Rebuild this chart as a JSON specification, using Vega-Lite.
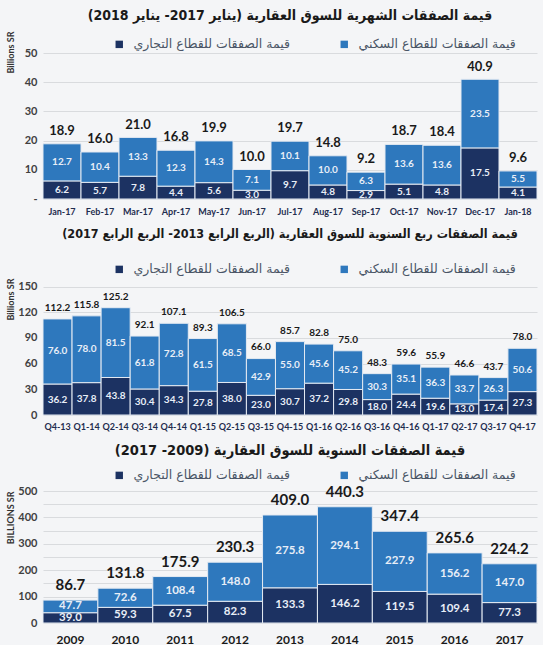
{
  "$schema": "https://vega.github.io/schema/vega-lite/v6.json",
  "background": "#f4f5f7",
  "padding": {"left": 5, "top": 9, "right": 5, "bottom": 0},
  "spacing": 11,
  "config": {
    "font": "Lato",
    "view": {"stroke": null},
    "title": {"font": "DejaVu Sans Condensed", "fontSize": 14, "fontWeight": "bold", "color": "#1a1a1a", "offset": 15, "anchor": "middle"},
    "axisY": {"domain": false, "ticks": false, "labelOverlap": false, "labelFontWeight": "bold", "labelFontSize": 11, "labelColor": "#404040", "labelPadding": 6, "gridColor": "#d9dbde", "minExtent": 25, "maxExtent": 25, "titleFontSize": 9, "titleFontWeight": "bold", "titleColor": "#333333", "titleX": -33, "titleAnchor": "end", "titleBaseline": "middle", "titleAngle": -90},
    "axisX": {"domain": false, "ticks": false, "labelAngle": 0, "labelOverlap": false, "labelFontWeight": "bold", "labelFontSize": 9, "labelColor": "#1f2d4f", "labelPadding": 8, "title": null},
    "legend": {"orient": "none", "direction": "horizontal", "columns": 2, "columnPadding": 48, "title": null, "symbolType": "square", "symbolSize": 55, "symbolStrokeWidth": 0, "labelFont": "DejaVu Sans", "labelFontSize": 12.5, "labelColor": "#4a5566", "legendX": 70, "legendY": -15, "labelOffset": 8,
      "encode": {"labels": {"update": {"fill": {"signal": "datum.index == 1 ? '#2f72b5' : '#4a5566'"}}}}}
  },
  "resolve": {"scale": {"color": "independent"}, "legend": {"color": "independent"}},
  "datasets": {
    "m": [
      {"p": "Jan-17", "s": "قيمة الصفقات للقطاع التجاري", "v": 6.2}, {"p": "Jan-17", "s": "قيمة الصفقات للقطاع السكني", "v": 12.7},
      {"p": "Feb-17", "s": "قيمة الصفقات للقطاع التجاري", "v": 5.7}, {"p": "Feb-17", "s": "قيمة الصفقات للقطاع السكني", "v": 10.4},
      {"p": "Mar-17", "s": "قيمة الصفقات للقطاع التجاري", "v": 7.8}, {"p": "Mar-17", "s": "قيمة الصفقات للقطاع السكني", "v": 13.3},
      {"p": "Apr-17", "s": "قيمة الصفقات للقطاع التجاري", "v": 4.4}, {"p": "Apr-17", "s": "قيمة الصفقات للقطاع السكني", "v": 12.3},
      {"p": "May-17", "s": "قيمة الصفقات للقطاع التجاري", "v": 5.6}, {"p": "May-17", "s": "قيمة الصفقات للقطاع السكني", "v": 14.3},
      {"p": "Jun-17", "s": "قيمة الصفقات للقطاع التجاري", "v": 3.0}, {"p": "Jun-17", "s": "قيمة الصفقات للقطاع السكني", "v": 7.1},
      {"p": "Jul-17", "s": "قيمة الصفقات للقطاع التجاري", "v": 9.7}, {"p": "Jul-17", "s": "قيمة الصفقات للقطاع السكني", "v": 10.1},
      {"p": "Aug-17", "s": "قيمة الصفقات للقطاع التجاري", "v": 4.8}, {"p": "Aug-17", "s": "قيمة الصفقات للقطاع السكني", "v": 10.0},
      {"p": "Sep-17", "s": "قيمة الصفقات للقطاع التجاري", "v": 2.9}, {"p": "Sep-17", "s": "قيمة الصفقات للقطاع السكني", "v": 6.3},
      {"p": "Oct-17", "s": "قيمة الصفقات للقطاع التجاري", "v": 5.1}, {"p": "Oct-17", "s": "قيمة الصفقات للقطاع السكني", "v": 13.6},
      {"p": "Nov-17", "s": "قيمة الصفقات للقطاع التجاري", "v": 4.8}, {"p": "Nov-17", "s": "قيمة الصفقات للقطاع السكني", "v": 13.6},
      {"p": "Dec-17", "s": "قيمة الصفقات للقطاع التجاري", "v": 17.5}, {"p": "Dec-17", "s": "قيمة الصفقات للقطاع السكني", "v": 23.5},
      {"p": "Jan-18", "s": "قيمة الصفقات للقطاع التجاري", "v": 4.1}, {"p": "Jan-18", "s": "قيمة الصفقات للقطاع السكني", "v": 5.5}
    ],
    "mt": [
      {"p": "Jan-17", "t": 18.9}, {"p": "Feb-17", "t": 16.0}, {"p": "Mar-17", "t": 21.0}, {"p": "Apr-17", "t": 16.8},
      {"p": "May-17", "t": 19.9}, {"p": "Jun-17", "t": 10.0}, {"p": "Jul-17", "t": 19.7}, {"p": "Aug-17", "t": 14.8},
      {"p": "Sep-17", "t": 9.2}, {"p": "Oct-17", "t": 18.7}, {"p": "Nov-17", "t": 18.4}, {"p": "Dec-17", "t": 40.9}, {"p": "Jan-18", "t": 9.6}
    ],
    "q": [
      {"p": "Q4-13", "s": "قيمة الصفقات للقطاع التجاري", "v": 36.2}, {"p": "Q4-13", "s": "قيمة الصفقات للقطاع السكني", "v": 76.0},
      {"p": "Q1-14", "s": "قيمة الصفقات للقطاع التجاري", "v": 37.8}, {"p": "Q1-14", "s": "قيمة الصفقات للقطاع السكني", "v": 78.0},
      {"p": "Q2-14", "s": "قيمة الصفقات للقطاع التجاري", "v": 43.8}, {"p": "Q2-14", "s": "قيمة الصفقات للقطاع السكني", "v": 81.5},
      {"p": "Q3-14", "s": "قيمة الصفقات للقطاع التجاري", "v": 30.4}, {"p": "Q3-14", "s": "قيمة الصفقات للقطاع السكني", "v": 61.8},
      {"p": "Q4-14", "s": "قيمة الصفقات للقطاع التجاري", "v": 34.3}, {"p": "Q4-14", "s": "قيمة الصفقات للقطاع السكني", "v": 72.8},
      {"p": "Q1-15", "s": "قيمة الصفقات للقطاع التجاري", "v": 27.8}, {"p": "Q1-15", "s": "قيمة الصفقات للقطاع السكني", "v": 61.5},
      {"p": "Q2-15", "s": "قيمة الصفقات للقطاع التجاري", "v": 38.0}, {"p": "Q2-15", "s": "قيمة الصفقات للقطاع السكني", "v": 68.5},
      {"p": "Q3-15", "s": "قيمة الصفقات للقطاع التجاري", "v": 23.0}, {"p": "Q3-15", "s": "قيمة الصفقات للقطاع السكني", "v": 42.9},
      {"p": "Q4-15", "s": "قيمة الصفقات للقطاع التجاري", "v": 30.7}, {"p": "Q4-15", "s": "قيمة الصفقات للقطاع السكني", "v": 55.0},
      {"p": "Q1-16", "s": "قيمة الصفقات للقطاع التجاري", "v": 37.2}, {"p": "Q1-16", "s": "قيمة الصفقات للقطاع السكني", "v": 45.6},
      {"p": "Q2-16", "s": "قيمة الصفقات للقطاع التجاري", "v": 29.8}, {"p": "Q2-16", "s": "قيمة الصفقات للقطاع السكني", "v": 45.2},
      {"p": "Q3-16", "s": "قيمة الصفقات للقطاع التجاري", "v": 18.0}, {"p": "Q3-16", "s": "قيمة الصفقات للقطاع السكني", "v": 30.3},
      {"p": "Q4-16", "s": "قيمة الصفقات للقطاع التجاري", "v": 24.4}, {"p": "Q4-16", "s": "قيمة الصفقات للقطاع السكني", "v": 35.1},
      {"p": "Q1-17", "s": "قيمة الصفقات للقطاع التجاري", "v": 19.6}, {"p": "Q1-17", "s": "قيمة الصفقات للقطاع السكني", "v": 36.3},
      {"p": "Q2-17", "s": "قيمة الصفقات للقطاع التجاري", "v": 13.0}, {"p": "Q2-17", "s": "قيمة الصفقات للقطاع السكني", "v": 33.7},
      {"p": "Q3-17", "s": "قيمة الصفقات للقطاع التجاري", "v": 17.4}, {"p": "Q3-17", "s": "قيمة الصفقات للقطاع السكني", "v": 26.3},
      {"p": "Q4-17", "s": "قيمة الصفقات للقطاع التجاري", "v": 27.3}, {"p": "Q4-17", "s": "قيمة الصفقات للقطاع السكني", "v": 50.6}
    ],
    "qt": [
      {"p": "Q4-13", "t": 112.2}, {"p": "Q1-14", "t": 115.8}, {"p": "Q2-14", "t": 125.2}, {"p": "Q3-14", "t": 92.1},
      {"p": "Q4-14", "t": 107.1}, {"p": "Q1-15", "t": 89.3}, {"p": "Q2-15", "t": 106.5}, {"p": "Q3-15", "t": 66.0},
      {"p": "Q4-15", "t": 85.7}, {"p": "Q1-16", "t": 82.8}, {"p": "Q2-16", "t": 75.0}, {"p": "Q3-16", "t": 48.3},
      {"p": "Q4-16", "t": 59.6}, {"p": "Q1-17", "t": 55.9}, {"p": "Q2-17", "t": 46.6}, {"p": "Q3-17", "t": 43.7}, {"p": "Q4-17", "t": 78.0}
    ],
    "y": [
      {"p": "2009", "s": "قيمة الصفقات للقطاع التجاري", "v": 39.0}, {"p": "2009", "s": "قيمة الصفقات للقطاع السكني", "v": 47.7},
      {"p": "2010", "s": "قيمة الصفقات للقطاع التجاري", "v": 59.3}, {"p": "2010", "s": "قيمة الصفقات للقطاع السكني", "v": 72.6},
      {"p": "2011", "s": "قيمة الصفقات للقطاع التجاري", "v": 67.5}, {"p": "2011", "s": "قيمة الصفقات للقطاع السكني", "v": 108.4},
      {"p": "2012", "s": "قيمة الصفقات للقطاع التجاري", "v": 82.3}, {"p": "2012", "s": "قيمة الصفقات للقطاع السكني", "v": 148.0},
      {"p": "2013", "s": "قيمة الصفقات للقطاع التجاري", "v": 133.3}, {"p": "2013", "s": "قيمة الصفقات للقطاع السكني", "v": 275.8},
      {"p": "2014", "s": "قيمة الصفقات للقطاع التجاري", "v": 146.2}, {"p": "2014", "s": "قيمة الصفقات للقطاع السكني", "v": 294.1},
      {"p": "2015", "s": "قيمة الصفقات للقطاع التجاري", "v": 119.5}, {"p": "2015", "s": "قيمة الصفقات للقطاع السكني", "v": 227.9},
      {"p": "2016", "s": "قيمة الصفقات للقطاع التجاري", "v": 109.4}, {"p": "2016", "s": "قيمة الصفقات للقطاع السكني", "v": 156.2},
      {"p": "2017", "s": "قيمة الصفقات للقطاع التجاري", "v": 77.3}, {"p": "2017", "s": "قيمة الصفقات للقطاع السكني", "v": 147.0}
    ],
    "yt": [
      {"p": "2009", "t": 86.7}, {"p": "2010", "t": 131.8}, {"p": "2011", "t": 175.9}, {"p": "2012", "t": 230.3},
      {"p": "2013", "t": 409.0}, {"p": "2014", "t": 440.3}, {"p": "2015", "t": 347.4}, {"p": "2016", "t": 265.6}, {"p": "2017", "t": 224.2}
    ]
  },
  "vconcat": [
    {
      "title": {"text": "قيمة الصفقات الشهرية للسوق العقارية (يناير 2017- يناير 2018)‏", "offset": 8},
      "width": 494, "height": 146,
      "layer": [
        {
          "data": {"name": "m"},
          "mark": {"type": "bar", "stroke": "#e4eaf2", "strokeWidth": 1},
          "encoding": {
            "x": {"field": "p", "type": "nominal", "sort": null, "scale": {"paddingInner": 0, "paddingOuter": 0}},
            "y": {"field": "v", "type": "quantitative", "stack": "zero", "scale": {"domain": [0, 50]},
                  "axis": {"title": "Billions SR", "titleY": -22, "values": [0, 10, 20, 30, 40, 50], "labelExpr": "datum.value == 0 ? '-' : datum.label"}},
            "color": {"field": "s", "type": "nominal",
                      "scale": {"domain": ["قيمة الصفقات للقطاع التجاري", "قيمة الصفقات للقطاع السكني"], "range": ["#1c3262", "#2e78bd"]}},
            "order": {"field": "s", "sort": "ascending"}
          }
        },
        {
          "data": {"name": "m"},
          "transform": [
            {"stack": "v", "groupby": ["p"], "sort": [{"field": "s", "order": "ascending"}], "as": ["v0", "v1"]},
            {"fold": ["v0", "v1"], "as": ["k", "pos"]},
            {"aggregate": [{"op": "mean", "field": "pos", "as": "mid"}], "groupby": ["p", "s", "v"]}
          ],
          "mark": {"type": "text", "color": "#e8eef7", "fontSize": 10, "fontWeight": "bold"},
          "encoding": {
            "x": {"field": "p", "type": "nominal", "sort": null},
            "y": {"field": "mid", "type": "quantitative",
                  "axis": {"title": "Billions SR", "titleY": -22, "values": [0, 10, 20, 30, 40, 50], "labelExpr": "datum.value == 0 ? '-' : datum.label"}},
            "text": {"field": "v", "format": ".1f"}
          }
        },
        {
          "data": {"name": "mt"},
          "mark": {"type": "text", "color": "#1a1a1a", "fontSize": 13, "fontWeight": "bold", "baseline": "bottom", "dy": -6},
          "encoding": {
            "x": {"field": "p", "type": "nominal", "sort": null},
            "y": {"field": "t", "type": "quantitative",
                  "axis": {"title": "Billions SR", "titleY": -22, "values": [0, 10, 20, 30, 40, 50], "labelExpr": "datum.value == 0 ? '-' : datum.label"}},
            "text": {"field": "t", "format": ".1f"}
          }
        }
      ]
    },
    {
      "title": {"text": "قيمة الصفقات ربع السنوية للسوق العقارية (الربع الرابع 2013- الربع الرابع 2017)‏", "offset": 23, "fontSize": 12.5},
      "width": 494, "height": 137,
      "layer": [
        {
          "data": {"name": "q"},
          "mark": {"type": "bar", "stroke": "#e4eaf2", "strokeWidth": 1},
          "encoding": {
            "x": {"field": "p", "type": "nominal", "sort": null, "scale": {"paddingInner": 0, "paddingOuter": 0}, "axis": {"labelPadding": 7}},
            "y": {"field": "v", "type": "quantitative", "stack": "zero", "scale": {"domain": [0, 150]},
                  "axis": {"title": "Billions SR", "values": [0, 30, 60, 90, 120, 150]}},
            "color": {"field": "s", "type": "nominal",
                      "scale": {"domain": ["قيمة الصفقات للقطاع التجاري", "قيمة الصفقات للقطاع السكني"], "range": ["#1c3262", "#2e78bd"]}},
            "order": {"field": "s", "sort": "ascending"}
          }
        },
        {
          "data": {"name": "q"},
          "transform": [
            {"stack": "v", "groupby": ["p"], "sort": [{"field": "s", "order": "ascending"}], "as": ["v0", "v1"]},
            {"fold": ["v0", "v1"], "as": ["k", "pos"]},
            {"aggregate": [{"op": "mean", "field": "pos", "as": "mid"}], "groupby": ["p", "s", "v"]}
          ],
          "mark": {"type": "text", "color": "#e8eef7", "fontSize": 10, "fontWeight": "bold"},
          "encoding": {
            "x": {"field": "p", "type": "nominal", "sort": null},
            "y": {"field": "mid", "type": "quantitative",
                  "axis": {"title": "Billions SR", "values": [0, 30, 60, 90, 120, 150]}},
            "text": {"field": "v", "format": ".1f"}
          }
        },
        {
          "data": {"name": "qt"},
          "mark": {"type": "text", "color": "#1a1a1a", "fontSize": 10, "fontWeight": "bold", "baseline": "bottom", "dy": -6},
          "encoding": {
            "x": {"field": "p", "type": "nominal", "sort": null},
            "y": {"field": "t", "type": "quantitative",
                  "axis": {"title": "Billions SR", "values": [0, 30, 60, 90, 120, 150]}},
            "text": {"field": "t", "format": ".1f"}
          }
        }
      ]
    },
    {
      "title": {"text": "قيمة الصفقات السنوية للسوق العقارية (2009- 2017)‏", "offset": 11, "fontSize": 14.5},
      "width": 494, "height": 132,
      "layer": [
        {
          "data": {"name": "y"},
          "mark": {"type": "bar", "stroke": "#e4eaf2", "strokeWidth": 1},
          "encoding": {
            "x": {"field": "p", "type": "nominal", "sort": null, "scale": {"paddingInner": 0, "paddingOuter": 0}, "axis": {"labelFontSize": 12, "labelColor": "#1a1a1a", "labelPadding": 11}},
            "y": {"field": "v", "type": "quantitative", "stack": "zero", "scale": {"domain": [0, 500]},
                  "axis": {"title": "BILLIONS SR", "values": [0, 50, 100, 150, 200, 250, 300, 350, 400, 450, 500], "labelExpr": "datum.value % 100 == 0 ? datum.label : ''"}},
            "color": {"field": "s", "type": "nominal",
                      "scale": {"domain": ["قيمة الصفقات للقطاع التجاري", "قيمة الصفقات للقطاع السكني"], "range": ["#1c3262", "#2e78bd"]},
                      "legend": {"legendY": -22}},
            "order": {"field": "s", "sort": "ascending"}
          }
        },
        {
          "data": {"name": "y"},
          "transform": [
            {"stack": "v", "groupby": ["p"], "sort": [{"field": "s", "order": "ascending"}], "as": ["v0", "v1"]},
            {"fold": ["v0", "v1"], "as": ["k", "pos"]},
            {"aggregate": [{"op": "mean", "field": "pos", "as": "mid"}], "groupby": ["p", "s", "v"]}
          ],
          "mark": {"type": "text", "color": "#e8eef7", "fontSize": 11.5, "fontWeight": "bold"},
          "encoding": {
            "x": {"field": "p", "type": "nominal", "sort": null},
            "y": {"field": "mid", "type": "quantitative",
                  "axis": {"title": "BILLIONS SR", "values": [0, 50, 100, 150, 200, 250, 300, 350, 400, 450, 500], "labelExpr": "datum.value % 100 == 0 ? datum.label : ''"}},
            "text": {"field": "v", "format": ".1f"}
          }
        },
        {
          "data": {"name": "yt"},
          "mark": {"type": "text", "color": "#1a1a1a", "fontSize": 15, "fontWeight": "bold", "baseline": "bottom", "dy": -7},
          "encoding": {
            "x": {"field": "p", "type": "nominal", "sort": null},
            "y": {"field": "t", "type": "quantitative",
                  "axis": {"title": "BILLIONS SR", "values": [0, 50, 100, 150, 200, 250, 300, 350, 400, 450, 500], "labelExpr": "datum.value % 100 == 0 ? datum.label : ''"}},
            "text": {"field": "t", "format": ".1f"}
          }
        }
      ]
    }
  ]
}
